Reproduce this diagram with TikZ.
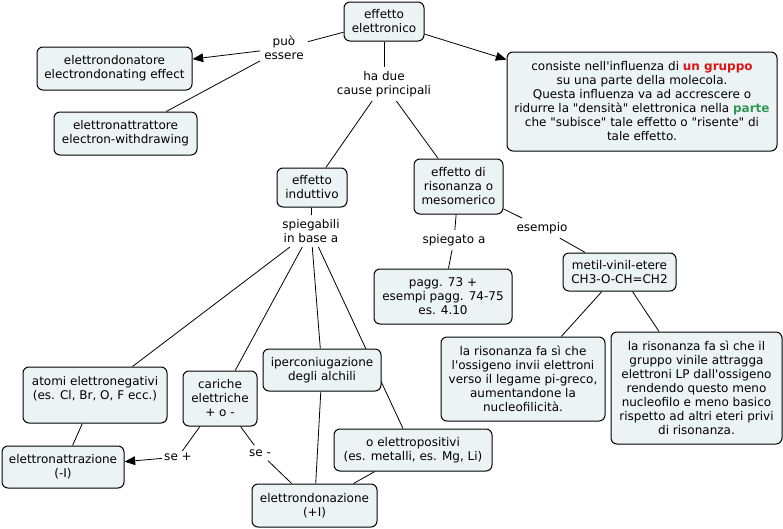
\documentclass[tikz,border=0pt]{standalone}
\usepackage{fontspec}
\newfontfamily\vf{DejaVu Sans}
\usetikzlibrary{arrows.meta,backgrounds}
\definecolor{boxfill}{RGB}{236,243,245}
\definecolor{kred}{RGB}{222,20,20}
\definecolor{kgreen}{RGB}{52,150,84}
\begin{document}
\begin{tikzpicture}[x=0.75pt,y=-0.75pt,
  every node/.style={font=\vf\fontsize{9}{10.5}\selectfont, align=center, inner sep=0pt},
  concept/.style 2 args={draw=black, fill=boxfill, rounded corners=4.5pt, line width=0.75pt,
     minimum width=#1*0.75pt, minimum height=#2*0.75pt},
  lbl/.style={inner sep=3pt},
  link/.style={line width=0.6pt},
  arr/.style={link, -{Triangle[length=8pt,width=6.5pt]}}
]
\useasboundingbox (0,0) rectangle (783,529);
% concepts
\node[concept={80}{39}] (ee) at (384,21.5) {effetto\\elettronico};
\node[concept={155}{43}] (don) at (114.5,68.5) {elettrondonatore\\electrondonating effect};
\node[concept={143}{43}] (att) at (125.5,133.5) {elettronattrattore\\electron-withdrawing};
\node[concept={270}{99}] (rb) at (642,101.5) {consiste nell'influenza di \textcolor{kred}{\textbf{un gruppo}}\\
su una parte della molecola.\\
Questa influenza va ad accrescere o\\
ridurre la "densità" elettronica nella \textcolor{kgreen}{\textbf{parte}}\\
che "subisce" tale effetto o "risente" di\\
tale effetto.};
\node[concept={70}{39}] (ind) at (312,187.5) {effetto\\induttivo};
\node[concept={89}{55}] (ris) at (458.5,186.5) {effetto di\\risonanza o\\mesomerico};
\node[concept={138}{55}] (pagg) at (443,296.5) {pagg. 73 +\\esempi pagg. 74-75\\es. 4.10};
\node[concept={113}{38}] (met) at (619.5,272) {metil-vinil-etere\\CH3-O-CH=CH2};
\node[concept={144}{56}] (atomi) at (95,395) {atomi elettronegativi\\(es. Cl, Br, O, F ecc.)\\\mbox{}};
\node[concept={74}{55}] (car) at (220,398.5) {cariche\\elettriche\\+ o -};
\node[concept={118}{42}] (ip) at (322,370) {iperconiugazione\\degli alchili};
\node[concept={122}{42}] (eaz) at (63,467) {elettronattrazione\\(-I)};
\node[concept={125}{43}] (edz) at (314.5,505.5) {elettrondonazione\\(+I)};
\node[concept={158}{42}] (ep) at (413,450) {o elettropositivi\\(es. metalli, es. Mg, Li)};
\node[concept={164}{84}] (r1) at (523,379) {la risonanza fa sì che\\l'ossigeno invii elettroni\\verso il legame pi-greco,\\aumentandone la\\nucleofilicità.};
\node[concept={171}{112}] (r2) at (696.5,388) {la risonanza fa sì che il\\gruppo vinile attragga\\elettroni LP dall'ossigeno\\rendendo questo meno\\nucleofilo e meno basico\\rispetto ad altri eteri privi\\di risonanza.};
% linking phrases
\node[lbl] (pu) at (284,48) {può\\essere};
\node[lbl] (ha) at (384,84) {ha due\\cause principali};
\node[lbl] (sp) at (311,231) {spiegabili\\in base a};
\node[lbl] (spa) at (454,240) {spiegato a};
\node[lbl] (es) at (542,228) {esempio};
\node[lbl,inner sep=1.5pt] (sep) at (178,457) {se +};
\node[lbl] (sem) at (260,453) {se -};
% connectors
\begin{scope}[on background layer]
\draw[link] (ee) -- (pu);
\draw[arr] (pu) -- (don);
\draw[link] (pu) -- (att);
\draw[link] (ee) -- (ha);
\draw[arr] (ee) -- (rb);
\draw[link] (ha) -- (ind);
\draw[link] (ha) -- (ris);
\draw[link] (ind) -- (sp);
\draw[link] (sp) -- (atomi);
\draw[link] (sp) -- (car);
\draw[link] (sp) -- (ip);
\draw[link] (sp) -- (ep);
\draw[link] (ip) -- (edz);
\draw[link] (ep) -- (edz);
\draw[link] (atomi) -- (eaz);
\draw[link] (car) -- (sep);
\draw[arr] (sep) -- (eaz);
\draw[link] (car) -- (sem);
\draw[link] (sem) -- (edz);
\draw[link] (ris) -- (spa);
\draw[link] (spa) -- (pagg);
\draw[link] (ris) -- (es);
\draw[link] (es) -- (met);
\draw[link] (met) -- (r1);
\draw[link] (met) -- (r2);
\end{scope}
\end{tikzpicture}
\end{document}
